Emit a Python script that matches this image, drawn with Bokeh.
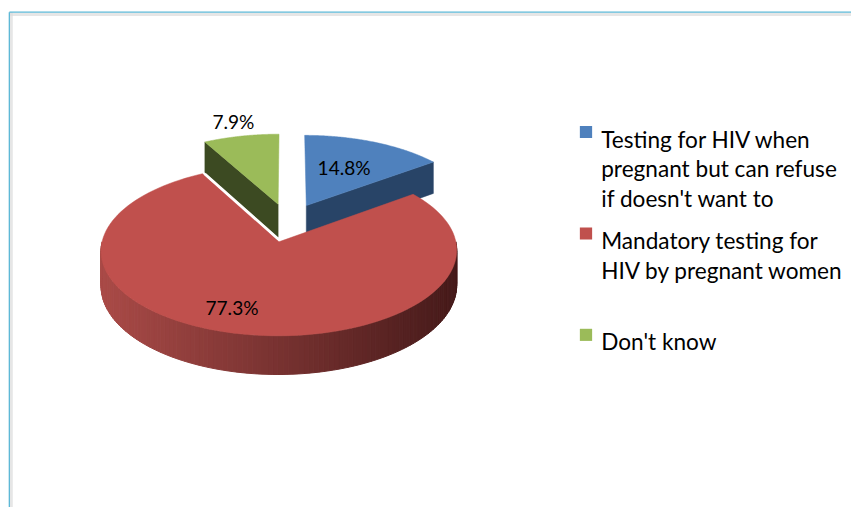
import numpy as np
from bokeh.plotting import figure
from bokeh.models import Range1d
from bokeh.core.properties import value
from bokeh.embed import file_html
from bokeh.resources import INLINE

# ---------------- data ----------------
categories = ["Testing for HIV when pregnant but can refuse if doesn't want to",
              "Mandatory testing for HIV by pregnant women",
              "Don't know"]
legend_lines = [["Testing for HIV when", "pregnant but can refuse", "if doesn't want to"],
                ["Mandatory testing for", "HIV by pregnant women"],
                ["Don't know"]]
values = [14.8, 77.3, 7.9]
pct_labels = ["14.8%", "77.3%", "7.9%"]

top_colors = ["#4f81bd", "#c0504d", "#9bbb59"]
side_colors = ["#284467", "#8a3634", "#3c4a22"]

# ---------------- layout ----------------
W, H = 851, 507            # figure size in pixels
VW, VH = 867.0, 523.0      # virtual canvas (reference pixel space)
SC = W / VW                # font scale
OX, OY, RX, RY, K, T = 293.0, 229.0, 176.0, 83.0, 0.10, 35.0
EXPLODE = 0.24


def proj(X, Z, d=0.0):
    X = np.asarray(X, float)
    Z = np.asarray(Z, float)
    s = 1.0 / (1.0 + K * Z)
    return OX + RX * X * s, OY + (-RY * Z + T * d) * s


p = figure(width=W, height=H, output_backend="svg", toolbar_location=None,
           x_range=Range1d(0, VW), y_range=Range1d(VH, 0),
           min_border=0, outline_line_color=None)
p.axis.visible = False
p.grid.visible = False
p.background_fill_color = "white"
p.border_fill_color = "white"

# frame border like the source
p.line([11, 11], [12, 540], line_color="#dcdcdc", line_width=3, line_alpha=0.7)
p.line([9, 890], [14.5, 14.5], line_color="#dcdcdc", line_width=3, line_alpha=0.7)
p.line([9, 9], [12, 540], line_color="#5bb7d6", line_width=1.3)
p.line([9, 890], [12, 12], line_color="#5bb7d6", line_width=1.3)

total = float(sum(values))
starts, ends = [], []
acc = 0.0
for v in values:
    starts.append(acc / total * 360.0)
    acc += v
    ends.append(acc / total * 360.0)
mids = [(a + b) / 2 for a, b in zip(starts, ends)]
offs = [(EXPLODE * np.sin(np.radians(m)), EXPLODE * np.cos(np.radians(m))) for m in mids]


def arc(i, a0, a1, n=120):
    th = np.radians(np.linspace(a0, a1, n))
    ex, ez = offs[i]
    return ex + np.sin(th), ez + np.cos(th)


def radial_face(i, a):
    ex, ez = offs[i]
    sa, ca = np.sin(np.radians(a)), np.cos(np.radians(a))
    X = [ex, ex + sa, ex + sa, ex]
    Z = [ez, ez + ca, ez + ca, ez]
    d = [0, 0, 1, 1]
    xs, ys = [], []
    for Xi, Zi, di in zip(X, Z, d):
        x, y = proj(Xi, Zi, di)
        xs.append(float(x)); ys.append(float(y))
    return xs, ys


def top_face(i):
    ex, ez = offs[i]
    X, Z = arc(i, starts[i], ends[i])
    x, y = proj(np.r_[ex, X], np.r_[ez, Z], 0)
    return list(x), list(y)


def lerp_color(c0, c1, t):
    a = [int(c0[k:k + 2], 16) for k in (1, 3, 5)]
    b = [int(c1[k:k + 2], 16) for k in (1, 3, 5)]
    return "#%02x%02x%02x" % tuple(int(round(a[j] + (b[j] - a[j]) * t)) for j in range(3))


# --- back slices: blue (0) and green (2)
xs, ys = radial_face(0, ends[0])
p.patch(xs, ys, fill_color=side_colors[0], line_color=side_colors[0], line_width=0.5)
xs, ys = top_face(0)
p.patch(xs, ys, fill_color=top_colors[0], line_color=top_colors[0], line_width=0.5)

gx, gy = radial_face(2, starts[2])
p.patch(gx, gy, fill_color=side_colors[2], line_color=side_colors[2], line_width=0.5)
xs, ys = top_face(2)
p.patch(xs, ys, fill_color=top_colors[2], line_color=top_colors[2], line_width=0.5)

# --- red slice (1): outer wall with gradient, then top
a0 = max(starts[1], 90.0)
a1 = min(ends[1], 270.0)
edges = np.linspace(a0, a1, 121)
strip_x, strip_y, strip_c = [], [], []
ex, ez = offs[1]
xl, _ = proj(ex - 1.0, ez, 0)
xr, _ = proj(ex + 1.0, ez, 0)
for j in range(len(edges) - 1):
    th = np.radians([edges[j], edges[j + 1]])
    X = ex + np.sin(th)
    Z = ez + np.cos(th)
    xt, yt = proj(X, Z, 0)
    xb, yb = proj(X, Z, 1)
    strip_x.append([xt[0], xt[1], xb[1], xb[0]])
    strip_y.append([yt[0], yt[1], yb[1], yb[0]])
    t = (np.mean(xt) - xl) / (xr - xl)
    t = min(max(t, 0.0), 1.0)
    strip_c.append(lerp_color("#a94a47", "#461a1a", t))
p.patches(strip_x, strip_y, fill_color=strip_c, line_color=strip_c, line_width=1)

xs, ys = top_face(1)
p.patch(xs, ys, fill_color=top_colors[1], line_color=top_colors[1], line_width=0.5)

# thin white gap along the bottom edge of the green side face
p.line([gx[2], gx[3]], [gy[2] + 1.5, gy[3] + 1.5], line_color="white", line_width=2.5)

# --- percentage labels placed relative to slice geometry
lab_r = [0.66, 0.70, 1.34]
lab_shift = [-5.0, 8.0, 1.0]
lx, ly = [], []
for i in range(3):
    a = np.radians(mids[i] + lab_shift[i])
    x, y = proj(offs[i][0] + lab_r[i] * np.sin(a), offs[i][1] + lab_r[i] * np.cos(a), 0)
    lx.append(float(x)); ly.append(float(y) + 6.7)
p.text(lx, ly, text=pct_labels, text_font=value("Lato"),
       text_font_size="%.1fpx" % (19.5 * SC),
       text_color="black", text_align="center", text_baseline="alphabetic")

# --- legend (manual)
LEG_X, LEG_Y0, ITEM_STEP, LINE_H = 612.0, 143.0, 104.6, 30.5
sq_y, tx, ty, tt = [], [], [], []
for i, lines in enumerate(legend_lines):
    base = LEG_Y0 + i * ITEM_STEP
    sq_y.append(base - 7.3)
    for k, ln in enumerate(lines):
        tx.append(LEG_X); ty.append(base + k * LINE_H); tt.append(ln)
p.rect([596.5] * 3, sq_y, width=12.5, height=12.5, fill_color=top_colors,
       line_color=None)
p.text(tx, ty, text=tt, text_font=value("Lato"),
       text_font_size="%.1fpx" % (23.0 * SC),
       text_color="black", text_align="left", text_baseline="alphabetic")

open("out.html", "w").write(file_html(p, INLINE))
